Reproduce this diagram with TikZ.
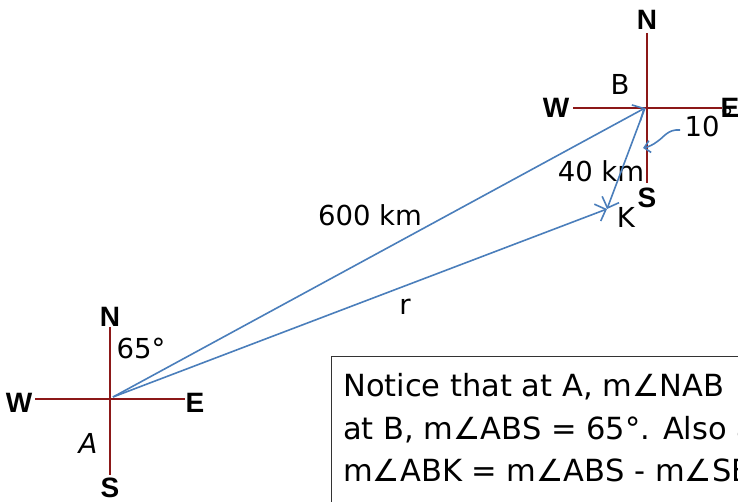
\documentclass[tikz,border=0pt]{standalone}
\usepackage{fontspec}
\setmainfont{DejaVu Sans}
\newfontfamily\cmpfont{Liberation Sans}
\usetikzlibrary{arrows.meta}
\definecolor{cmpred}{RGB}{140,24,24}
\definecolor{vecblue}{RGB}{74,126,187}
\tikzset{
  cmpline/.style={draw=cmpred, line width=2.6pt},
  cmplbl/.style={font=\cmpfont\bfseries\fontsize{28}{28}\selectfont, inner sep=0pt},
  lbl/.style={font=\fontsize{27.5}{27.5}\selectfont, inner sep=0pt},
  vec/.style={draw=vecblue, line width=1.6pt, -{Straight Barb[length=9pt,width=18pt,line width=1.6pt]}},
  boxtxt/.style={font=\fontsize{30.5}{30.5}\selectfont, inner sep=0pt, anchor=base west}
}
\begin{document}
\begin{tikzpicture}[x=1pt,y=1pt]
\useasboundingbox (0,0) rectangle (738,502);
\clip (0,0) rectangle (738,502);
% compass A
\coordinate (An) at (110,175);
\coordinate (As) at (110,27);
\coordinate (Aw) at (35,103);
\coordinate (Ae) at (185,103);
\coordinate (Ao) at (113,105);
\draw[cmpline] (Aw) -- (Ae);
\draw[cmpline] (An) -- (As);
\node[cmplbl] (nA) at (110,185) {N};
\node[cmplbl] (wA) at (19,99) {W};
\node[cmplbl] (eA) at (195,99) {E};
\node[cmplbl] (sA) at (110,14) {S};
\node[lbl, font=\itshape\fontsize{27.5}{27.5}\selectfont] (labA) at (88,59) {A};
\node[lbl] (ang65) at (141,154) {65°};
% compass B
\coordinate (Bn) at (647,469);
\coordinate (Bs) at (647,319);
\coordinate (Bw) at (573,394);
\coordinate (Be) at (722,394);
\coordinate (Bo) at (645,394);
\draw[cmpline] (Bw) -- (Be);
\draw[cmpline] (Bn) -- (Bs);
\node[cmplbl] (nB) at (647,482) {N};
\node[cmplbl] (wB) at (556,394) {W};
\node[cmplbl] (eB) at (730,394) {E};
\node[cmplbl] (sB) at (647,304) {S};
\node[lbl] (labB) at (620,418) {B};
\node[lbl] (ten) at (702,376) {10};
\node[lbl] (deg) at (727,385) {°};
\node[lbl] (d40) at (601,331) {40 km};
% K
\coordinate (K) at (607,293);
\node[lbl] (labK) at (626,285) {K};
\node[lbl] (d600) at (370,287) {600 km};
\node[lbl] (labr) at (405,195) {r};
% vectors
\draw[vec] (Ao) -- (Bo);
\draw[vec] (Ao) -- (K);
\draw[vec] (Bo) -- (K);
% curly pointer
\coordinate (cs) at (680,372);
\coordinate (ce) at (643,354);
\draw[vec, -{Straight Barb[length=6pt,width=12pt,line width=1.6pt]}] (cs) .. controls (668,373) and (664,365) .. (658,361) .. controls (653,357) and (648,355) .. (ce);
% text box
\draw[line width=1pt, draw=black!80] (331,145) rectangle (760,-20);
\node[boxtxt] (t1) at (343,105) {Notice that at A, m∠NAB};
\node[boxtxt] (t2) at (343,62) {at B, m∠ABS = 65°.  Also a};
\node[boxtxt] (t3) at (343,20) {m∠ABK = m∠ABS - m∠SBK};
\end{tikzpicture}
\end{document}
